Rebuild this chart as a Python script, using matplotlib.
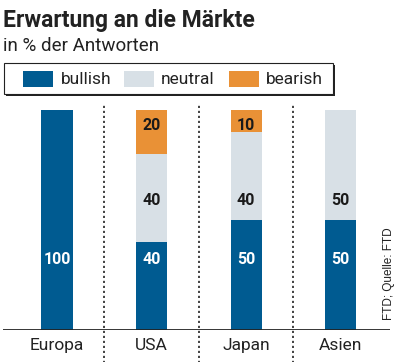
import matplotlib.pyplot as plt
from matplotlib.patches import Rectangle

regions = ['Europa', 'USA', 'Japan', 'Asien']
bullish = [100, 40, 50, 50]
neutral = [0, 40, 40, 50]
bearish = [0, 20, 10, 0]
series_names = ['bullish', 'neutral', 'bearish']

blue = '#005b91'
grey = '#d8e0e6'
orange = '#e99136'

plt.rcParams['font.family'] = ['Roboto', 'DejaVu Sans']

fig = plt.figure(figsize=(4.0, 3.62), dpi=100)
ax = fig.add_axes([0.0075, 0.0884, 0.9675, 0.6077])

x = list(range(len(regions)))
w = 0.33
b2 = [a + b for a, b in zip(bullish, neutral)]
ax.bar(x, bullish, w, color=blue, edgecolor='none')
ax.bar(x, neutral, w, bottom=bullish, color=grey, edgecolor='none')
ax.bar(x, bearish, w, bottom=b2, color=orange, edgecolor='none')

# value labels sit on fixed rows in the original
for i in x:
    ax.text(i, 32, str(bullish[i]), color='white', ha='center', va='center',
            fontsize=11.5, fontweight='bold')
    if neutral[i]:
        ax.text(i, 59, str(neutral[i]), color='#1a1a1a', ha='center', va='center',
                fontsize=11.5, fontweight='bold')
    if bearish[i]:
        ax.text(i, 93, str(bearish[i]), color='#1a1a1a', ha='center', va='center',
                fontsize=11.5, fontweight='bold')

ax.set_xlim(-0.57, 3.52)
ax.set_ylim(0, 100)
ax.axis('off')
ax.axhline(0, color='#222222', lw=2, xmin=0, xmax=1)
ax.vlines([i + 0.5 for i in x[:-1]], -15, 102.3, colors='#222222', lw=1.2,
          linestyles=(0, (1.3, 1.7)), clip_on=False)
for i in x:
    ax.text(i, -7, regions[i], ha='center', va='center', fontsize=12.5,
            color='#222222', clip_on=False)

fig.text(0.0075, 0.975, 'Erwartung an die Märkte', fontsize=16.5, fontweight='bold',
         va='top', ha='left', color='#222222')
fig.text(0.0075, 0.873, 'in % der Antworten', fontsize=13.5, va='center', ha='left',
         color='#222222')

# legend box with shadow
H = 362.0
fig.patches.append(Rectangle((6 / 400, 1 - 96 / H), 329 / 400, 31 / H,
                             transform=fig.transFigure, facecolor='#222222',
                             edgecolor='none'))
fig.patches.append(Rectangle((4 / 400, 1 - 94 / H), 329 / 400, 31 / H,
                             transform=fig.transFigure, facecolor='white',
                             edgecolor='#222222', lw=0.8))
for px, tx, col, name in [(23, 61, blue, series_names[0]),
                          (124, 161, grey, series_names[1]),
                          (229, 266, orange, series_names[2])]:
    fig.patches.append(Rectangle((px / 400, 1 - 87 / H), 30 / 400, 16 / H,
                                 transform=fig.transFigure, facecolor=col,
                                 edgecolor='none'))
    fig.text(tx / 400, 1 - 79 / H, name, fontsize=12.5, va='center', ha='left',
             color='#222222')

fig.text(389 / 400, 1 - 320 / H, 'FTD; Quelle: FTD', rotation=90, fontsize=8.5,
         family='Liberation Sans', ha='center', va='bottom', color='#222222')

fig.savefig('out.png', dpi=100)
